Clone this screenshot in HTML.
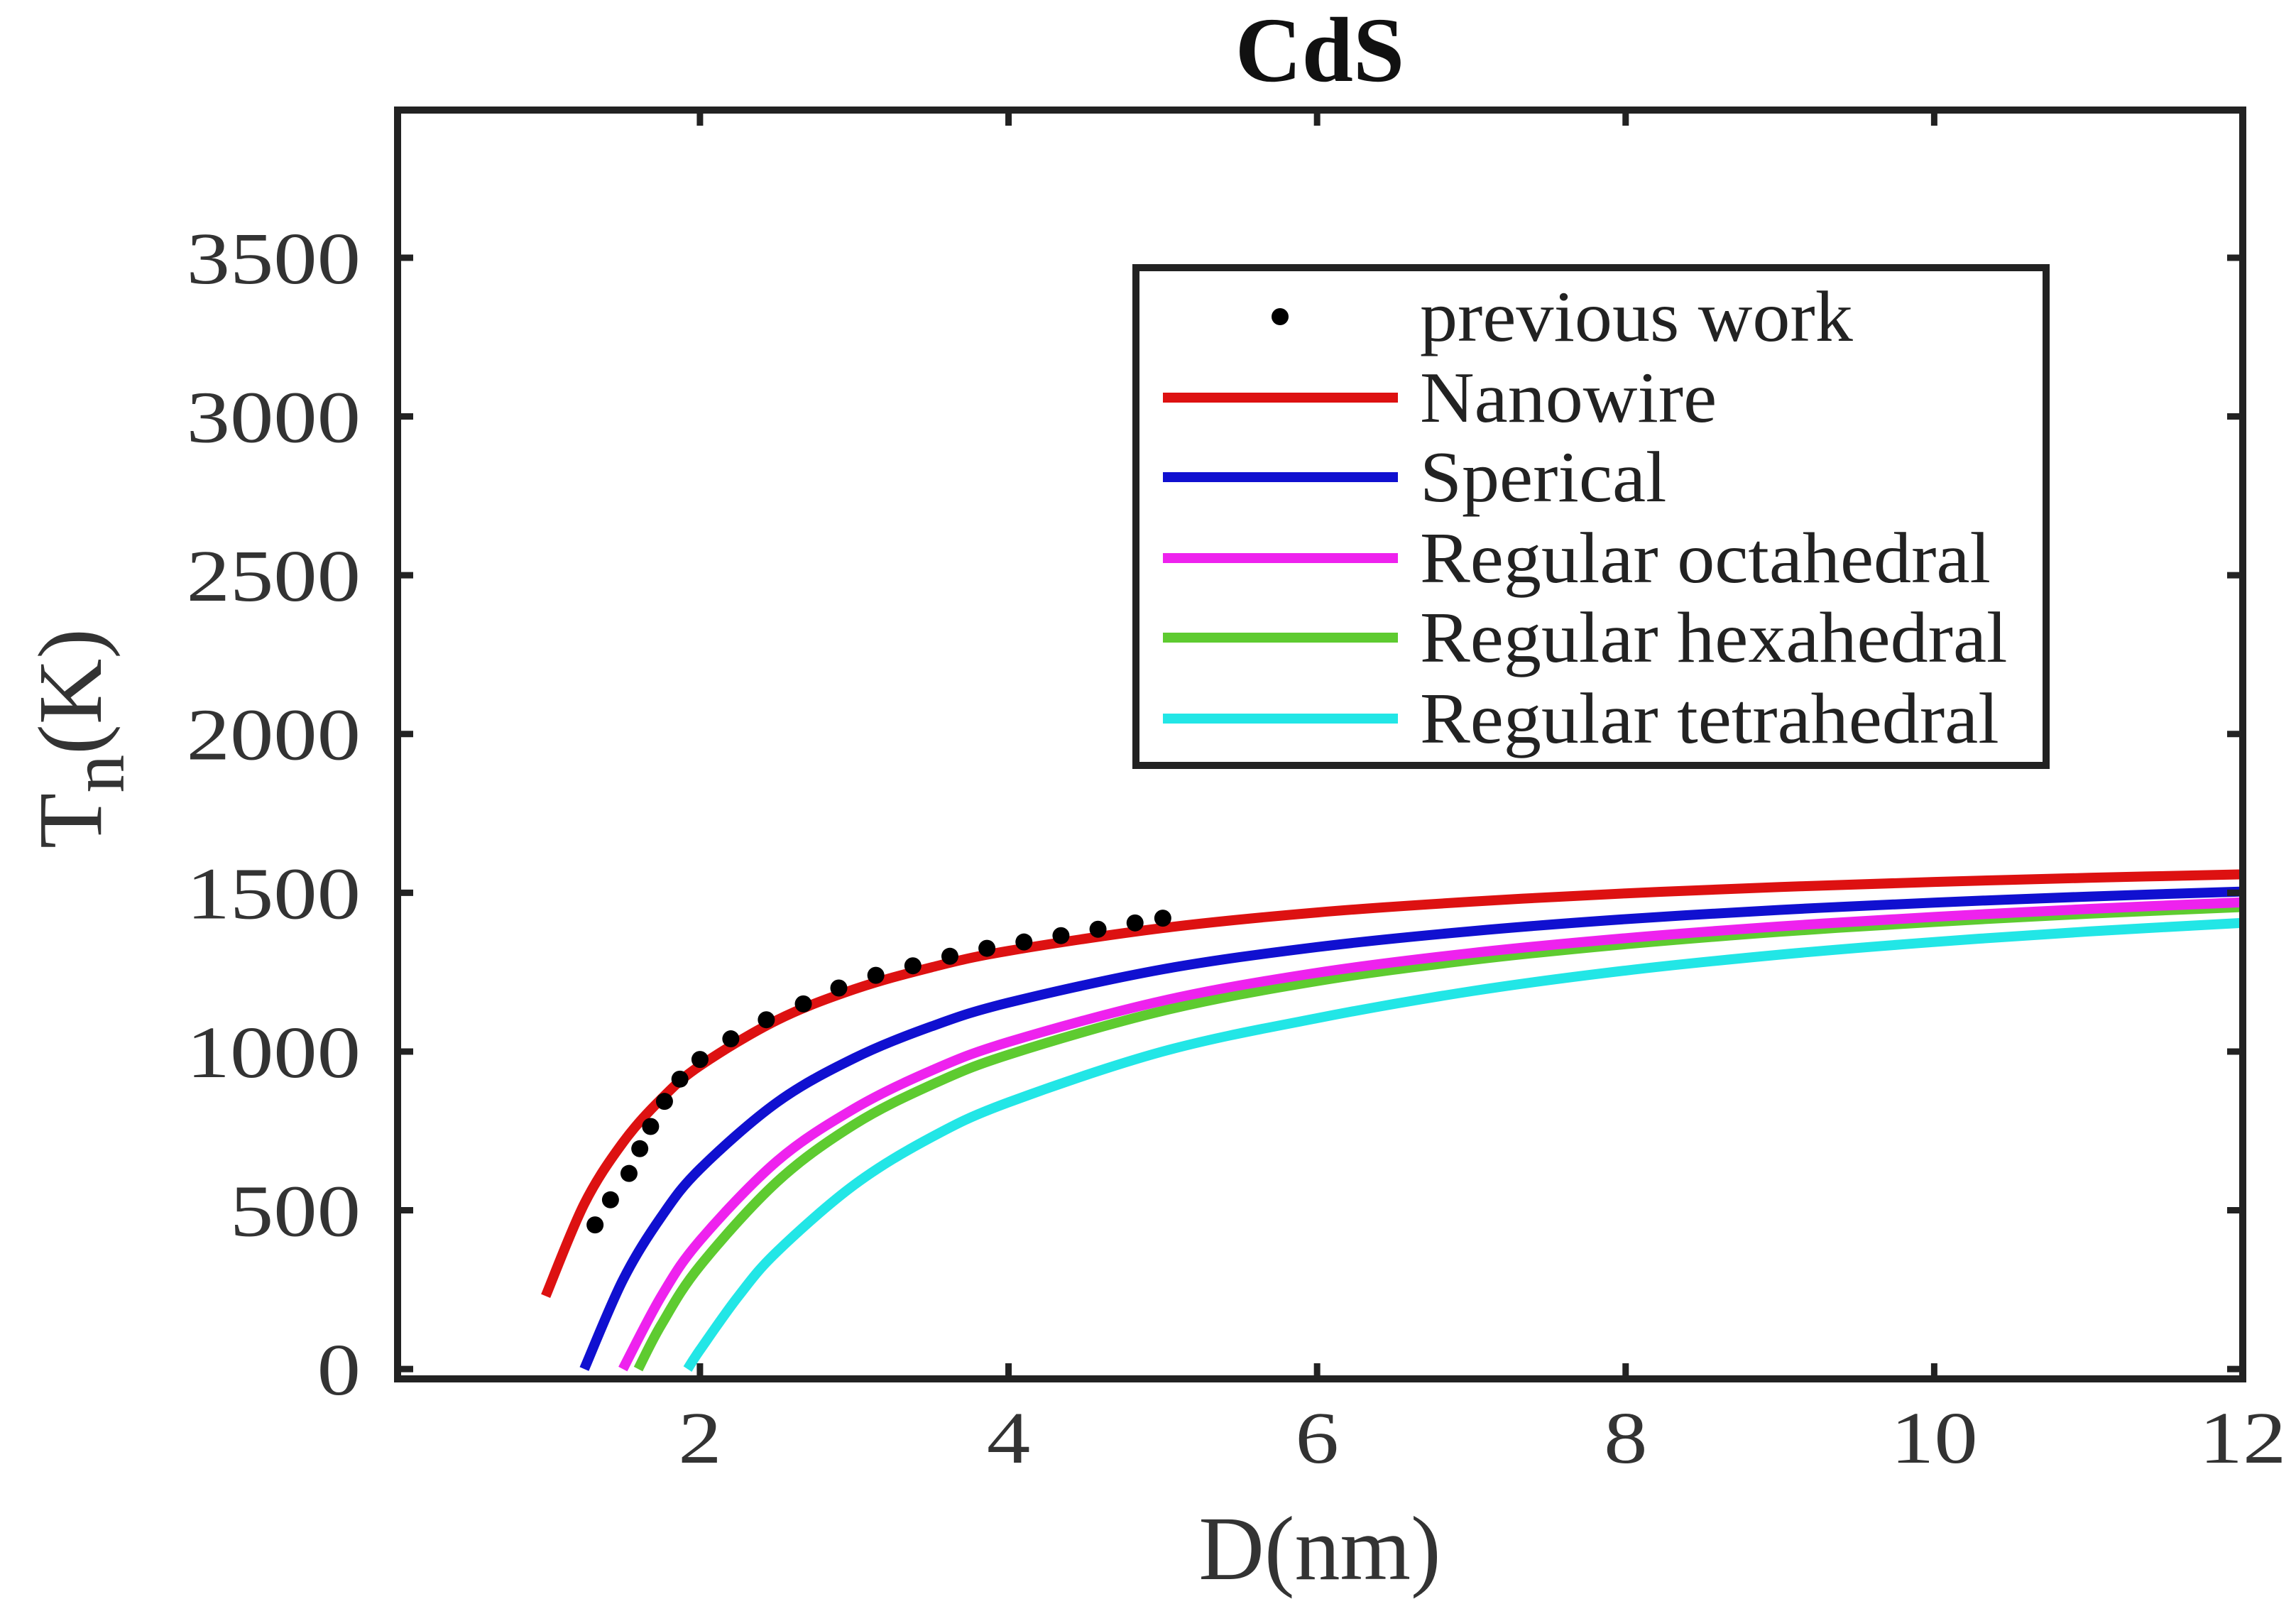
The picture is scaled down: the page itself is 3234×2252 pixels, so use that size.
<!DOCTYPE html>
<html><head><meta charset="utf-8"><style>
html,body{margin:0;padding:0;background:#fff;}
svg{display:block;font-family:"Liberation Serif",serif;}
</style></head><body>
<svg id="chart" width="3234" height="2252" viewBox="0 0 3234 2252" xmlns="http://www.w3.org/2000/svg">
<rect width="3234" height="2252" fill="#fff"/>
<text x="1859" y="114" font-size="130" font-weight="bold" text-anchor="middle" fill="#111">CdS</text>
<g id="series"></g>
<g id="axes"></g>
<text x="1859" y="2224" font-size="128" text-anchor="middle" fill="#333">D(nm)</text>
<text transform="translate(142,1040) rotate(-90)" font-size="128" text-anchor="middle" fill="#333">T<tspan font-size="108" dy="32">n</tspan><tspan dy="-32">(K)</tspan></text>
<g id="legend"></g>
</svg>
<script>
const xTicks=[2,4,6,8,10,12];
const yTicks=[0,500,1000,1500,2000,2500,3000,3500];
const nanoD=[1,1.25,1.5,1.75,2,2.5,3,3.5,4,5,6,7,8,9,10,11,12];
const nanoT=[230,520,713,851,955,1099,1196,1265,1317,1389,1438,1472,1498,1518,1534,1547,1558];
const sphD=[1.25,1.5,1.75,2,2.5,3,3.5,4,5,6,7,8,9,10,11,12];
const sphT=[0,280,480,630,840,979,1079,1154,1259,1329,1379,1417,1446,1469,1488,1504];
const octD=[1.5,1.75,2,2.5,3,3.5,4,5,6,7,8,9,10,11,12];
const octT=[0,230,405,655,820,940,1030,1160,1248,1310,1357,1394,1424,1449,1470];
const hexD=[1.6,1.75,2,2.5,3,3.5,4,5,6,7,8,9,10,11,12];
const hexT=[0,140,325,590,770,895,990,1128,1222,1288,1338,1377,1408,1434,1455];
const tetD=[1.92,2,2.25,2.5,3,3.5,4,5,6,7,8,9,10,11,12];
const tetT=[0,60,230,370,580,730,840,1000,1105,1190,1255,1305,1345,1378,1405];
const prevD=[1.32,1.42,1.54,1.61,1.68,1.77,1.87,2.0,2.2,2.43,2.67,2.9,3.14,3.38,3.62,3.86,4.1,4.34,4.58,4.82,5.0];
const prevT=[454,533,616,694,764,843,913,975,1040,1100,1150,1200,1240,1270,1300,1325,1345,1365,1385,1405,1420];

const L=560,R=3159,T=155,B=1942;
const xMin=0.04,xMax=12,yMin=-31,yMax=3965;
const sx=v=>L+(v-xMin)/(xMax-xMin)*(R-L);
const sy=v=>B-(v-yMin)/(yMax-yMin)*(B-T);
const NS="http://www.w3.org/2000/svg";
function mk(tag,attrs,parent){const e=document.createElementNS(NS,tag);for(const k in attrs)e.setAttribute(k,attrs[k]);parent.appendChild(e);return e;}

const series=document.getElementById('series');
function line(D,V,color,name){
  const P=D.map((x,i)=>[sx(x),sy(V[i])]);
  let d='M'+P[0][0].toFixed(1)+' '+P[0][1].toFixed(1);
  for(let i=0;i<P.length-1;i++){
    const p0=P[i-1]||P[i],p1=P[i],p2=P[i+1],p3=P[i+2]||P[i+1];
    const c1=[p1[0]+(p2[0]-p0[0])/6,p1[1]+(p2[1]-p0[1])/6];
    const c2=[p2[0]-(p3[0]-p1[0])/6,p2[1]-(p3[1]-p1[1])/6];
    d+=' C'+c1.map(n=>n.toFixed(1)).join(' ')+' '+c2.map(n=>n.toFixed(1)).join(' ')+' '+p2[0].toFixed(1)+' '+p2[1].toFixed(1);
  }
  const p=mk('path',{d:d,fill:'none',stroke:color,'stroke-width':14,'stroke-linejoin':'round'},series);
  
  
}
line(tetD,tetT,'#22e6e6','line-regular-tetrahedral');
line(hexD,hexT,'#5ecb30','line-regular-hexahedral');
line(octD,octT,'#ee22ee','line-regular-octahedral');
line(sphD,sphT,'#1010d0','line-sperical');
line(nanoD,nanoT,'#dd1111','line-nanowire');
prevD.forEach((x,i)=>{
  const c=mk('circle',{cx:sx(x),cy:sy(prevT[i]),r:12,fill:'#000'},series);
  
  
});

const axes=document.getElementById('axes');
const frame=mk('rect',{x:L,y:T,width:R-L,height:B-T,fill:'none',stroke:'#222','stroke-width':10},axes);


xTicks.forEach(v=>{
  const x=sx(v);
  mk('line',{x1:x,y1:B,x2:x,y2:B-22,stroke:'#222','stroke-width':9},axes);
  mk('line',{x1:x,y1:T,x2:x,y2:T+22,stroke:'#222','stroke-width':9},axes);
  const g=mk('g',{transform:'translate('+x+','+(B+118)+') scale(1.18,1)'},axes);
  const t=mk('text',{x:0,y:0,'font-size':104,'text-anchor':'middle',fill:'#333'},g);
  t.textContent=v;
  
  
});
yTicks.forEach(v=>{
  const y=sy(v);
  mk('line',{x1:L,y1:y,x2:L+22,y2:y,stroke:'#222','stroke-width':9},axes);
  mk('line',{x1:R,y1:y,x2:R-22,y2:y,stroke:'#222','stroke-width':9},axes);
  const g=mk('g',{transform:'translate('+(L-52)+','+(y+36)+') scale(1.18,1)'},axes);
  const t=mk('text',{x:0,y:0,'font-size':104,'text-anchor':'end',fill:'#333'},g);
  t.textContent=v;
  
  
});

const lg=document.getElementById('legend');
mk('rect',{x:1600,y:377,width:1282,height:701,fill:'#fff',stroke:'#222','stroke-width':10},lg);
const entries=[['previous work',null],['Nanowire','#dd1111'],['Sperical','#1010d0'],['Regular octahedral','#ee22ee'],['Regular hexahedral','#5ecb30'],['Regular tetrahedral','#22e6e6']];
const ys=[446,560,672,786,898,1012];
entries.forEach((e,i)=>{
  const y=ys[i];
  if(e[1]){
    const l=mk('line',{x1:1638,y1:y,x2:1969,y2:y,stroke:e[1],'stroke-width':14},lg);
    
    
  } else {
    const c=mk('circle',{cx:1803,cy:y,r:12,fill:'#000'},lg);
    
    
  }
  const g=mk('g',{transform:'translate(2000,'+(y+34)+') scale(1.04,1)'},lg);
  const t=mk('text',{x:0,y:0,'font-size':102,fill:'#222'},g);
  t.textContent=e[0];
  
  
});
</script>
</body></html>
